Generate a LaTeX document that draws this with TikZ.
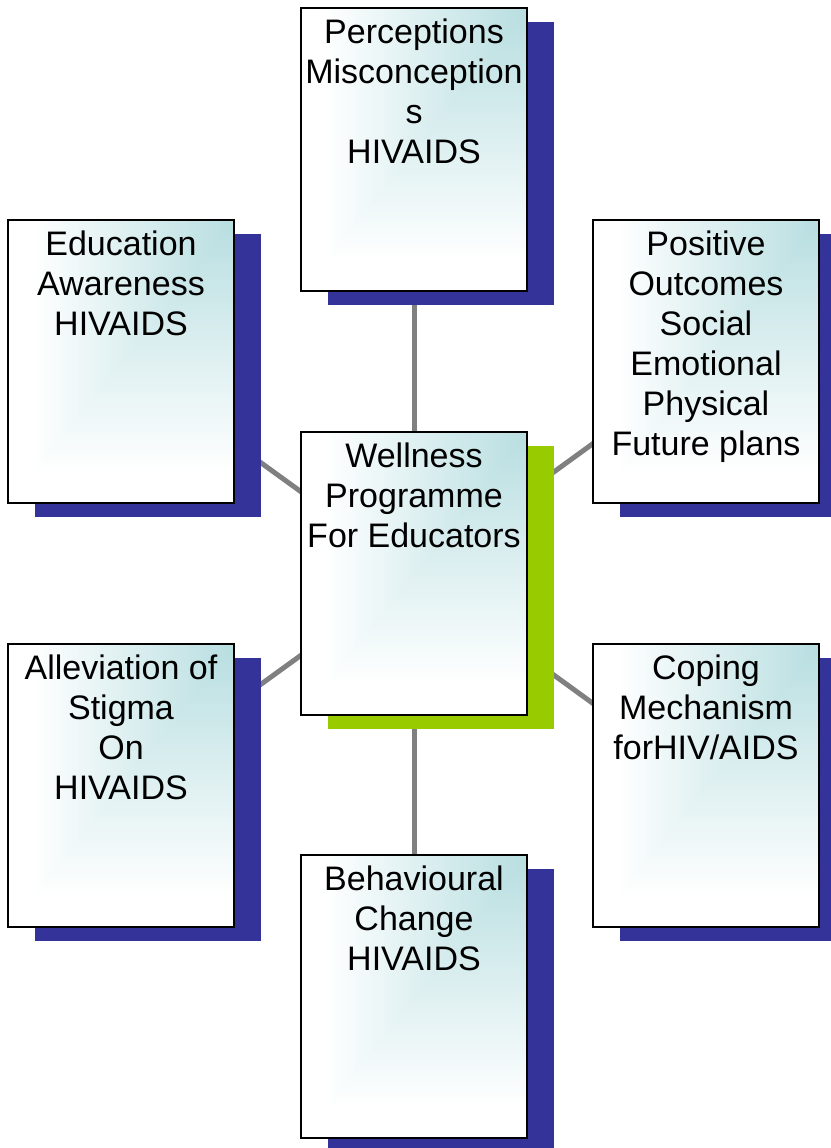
\documentclass[tikz,border=0pt]{standalone}
\usepackage{fontspec}
\setmainfont{Liberation Sans}
\usetikzlibrary{shadows,backgrounds}

\definecolor{shadowblue}{RGB}{51,51,153}
\definecolor{shadowgreen}{RGB}{153,204,0}
\definecolor{linkgray}{RGB}{128,128,128}

% Teal in the top-right corner, fading to white towards the left and bottom
% (rectangular "from corner" gradient). The path is fitted to the 25..75bp square.
\pgfdeclarefunctionalshading{cornerfade}{\pgfpoint{0bp}{0bp}}{\pgfpoint{100bp}{100bp}}{}{
  75 exch sub 50 div
  exch 75 exch sub 50 div
  2 copy lt {exch} if pop
  1.12 mul
  dup 0 lt {pop 0} if
  dup 1 gt {pop 1} if
  dup 0.28 mul 0.72 add
  exch dup 0.13 mul 0.87 add
  exch 0.12 mul 0.88 add
}

\tikzset{
  box/.style={rectangle, draw=black, line width=1.8bp, minimum width=226bp,
    minimum height=283bp, inner sep=0pt, shading=cornerfade},
  bluebox/.style={box, drop shadow={shadow xshift=27bp, shadow yshift=-14bp,
    draw=none, fill=shadowblue, opacity=1}},
  greenbox/.style={box, drop shadow={shadow xshift=27bp, shadow yshift=-14bp,
    draw=none, fill=shadowgreen, opacity=1}},
  boxtext/.style={font=\fontsize{34bp}{40bp}\selectfont, align=center,
    inner sep=0pt, anchor=north},
  conn/.style={draw=linkgray, line width=5bp}
}

\begin{document}
\begin{tikzpicture}[x=1bp, y=-1bp]
  \useasboundingbox (0,0) rectangle (831,1148);

  % boxes
  \node[greenbox] (hub)   at (414,573.5) {};
  \node[bluebox]  (perc)  at (414,149.5) {};
  \node[bluebox]  (educ)  at (121,361.5) {};
  \node[bluebox]  (posi)  at (706,361.5) {};
  \node[bluebox]  (allev) at (121,785.5) {};
  \node[bluebox]  (cope)  at (706,785.5) {};
  \node[bluebox]  (behav) at (414,996.5) {};

  % box texts
  \node[boxtext] (hubT)   at ([yshift=-11.5bp]hub.north)   {Wellness\\Programme\\For Educators};
  \node[boxtext] (percT)  at ([yshift=-11.5bp]perc.north)  {Perceptions\\Misconception\\s\\HIVAIDS};
  \node[boxtext] (educT)  at ([yshift=-11.5bp]educ.north)  {Education\\Awareness\\HIVAIDS};
  \node[boxtext] (posiT)  at ([yshift=-11.5bp]posi.north)  {Positive\\Outcomes\\Social\\Emotional\\Physical\\Future plans};
  \node[boxtext] (allevT) at ([yshift=-11.5bp]allev.north) {Alleviation of\\Stigma\\On\\HIVAIDS};
  \node[boxtext] (copeT)  at ([yshift=-11.5bp]cope.north)  {Coping\\Mechanism\\forHIV/AIDS};
  \node[boxtext] (behavT) at ([yshift=-11.5bp]behav.north) {Behavioural\\Change\\HIVAIDS};

  % connectors, behind boxes and shadows
  \begin{scope}[on background layer]
    \draw[conn] (hub.center) -- (perc.center);
    \draw[conn] (hub.center) -- (educ.center);
    \draw[conn] (hub.center) -- (posi.center);
    \draw[conn] (hub.center) -- (allev.center);
    \draw[conn] (hub.center) -- (cope.center);
    \draw[conn] (hub.center) -- (behav.center);
  \end{scope}
\end{tikzpicture}
\end{document}
